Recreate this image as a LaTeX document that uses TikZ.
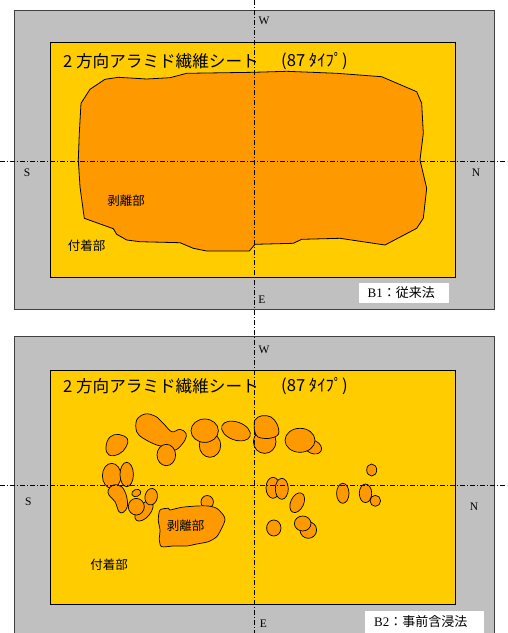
\documentclass[tikz,border=0pt]{standalone}
\usepackage{fontspec}
\setmainfont{Liberation Serif}
\newfontfamily\jp{Noto Sans CJK JP}
\definecolor{panelgray}{HTML}{C0C0C0}
\definecolor{sheet}{HTML}{FFCC00}
\definecolor{peel}{HTML}{FF9900}
\tikzset{
  outerbox/.style={fill=panelgray,draw=black!75,line width=0.8pt},
  sheetbox/.style={fill=sheet,draw=black,line width=0.8pt},
  blob/.style={fill=peel,draw=black,line width=0.7pt},
  axisline/.style={black,line width=0.5pt,dash pattern=on 5pt off 2pt on 1pt off 2pt},
  dirlabel/.style={font=\fontsize{11.5}{11.5}\selectfont,inner sep=0pt},
  titletext/.style={font=\jp\fontsize{16.6}{16.6}\selectfont,anchor=west,inner sep=0pt},
  typetext/.style={font=\jp\fontsize{16.6}{16.6}\selectfont,anchor=west,inner sep=0pt},
  jplabel/.style={font=\jp\fontsize{12.5}{12.5}\selectfont,inner sep=0pt},
  capbox/.style={fill=white,draw=none},
  captext/.style={font=\fontsize{13}{13}\selectfont,inner sep=0pt,anchor=west}
}
\begin{document}
\begin{tikzpicture}[x=1pt,y=-1pt]
\useasboundingbox (0,0) rectangle (507,633);
\fill[white] (0,0) rectangle (507,633);
% ================= top panel =================
\draw[outerbox] (14,10.3) rectangle (494.7,309.3);
\draw[sheetbox] (50.3,42.7) rectangle (455.7,277.7);
\draw[blob,line width=0.8pt] (105,79.3) -- (118.3,77.3) -- (146.7,79) -- (170,77.7) -- (186.7,73.3) -- (253.3,72.3) -- (286.7,71.3) -- (336.7,73.3) -- (381.7,76.7) -- (416.7,91.7) -- (421.7,103.3) -- (423.3,133.3) -- (420,160) -- (426.7,188.3) -- (423.3,218.3) -- (416.7,228.3) -- (385,245) -- (340,238.3) -- (301.7,239.3) -- (293.3,243.3) -- (255,244.3) -- (249.3,251) -- (206.7,251) -- (193.3,248.3) -- (180,242.7) -- (140,241.7) -- (126.7,240) -- (116.7,234.3) -- (113.3,228.7) -- (84.3,218.3) -- (80,186.7) -- (78.3,160) -- (79.3,133.3) -- (81,103.3) -- (90,89.3) -- cycle;
\node[titletext] (t1) at (63,61) {2 方向アラミド繊維シート};
\node[typetext] (ty1) at (281,61) {(87 ﾀｲﾌﾟ)};
\node[jplabel] (peel1) at (126,201) {剥離部};
\node[jplabel] (bond1) at (86.7,245.7) {付着部};
\fill[capbox] (359,283.3) rectangle (448.7,302.7);
\node[captext] (cap1) at (367.5,293) {B1\jp：従来法};
% ================= bottom panel =================
\fill[panelgray] (14,336.3) rectangle (494.7,633);
\draw[black!75,line width=0.8pt] (14,633) -- (14,336.3) -- (494.7,336.3) -- (494.7,633);
\draw[sheetbox] (50.3,370) rectangle (455.3,604);
% blobs
\draw[blob] plot[smooth cycle,tension=0.7] coordinates {(106,447) (110,437) (119,434.5) (127.5,439) (126,447) (119,454) (109,455)};
\draw[blob] plot[smooth cycle,tension=0.6] coordinates {(136.7,420) (145,414) (155,416) (163.3,423.3) (171.7,431.7) (180,429.3) (186,433.3) (185,440) (178.3,448.3) (173.3,450) (166.7,446.7) (156.7,445) (143.3,438.3) (136.7,431.7)};
\draw[blob] (166.3,455) ellipse [x radius=9.3pt,y radius=10.7pt];
\draw[blob] (210,445.3) ellipse [x radius=10.7pt,y radius=12pt];
\draw[blob] (204.7,430.7) ellipse [x radius=13.7pt,y radius=11.7pt];
\draw[blob] (236,431) ellipse [x radius=15pt,y radius=9pt,rotate=-20];
\draw[blob] (264.7,441.7) ellipse [x radius=11.3pt,y radius=11.7pt];
\draw[blob] plot[smooth cycle,tension=0.6] coordinates {(255,420) (262,415.7) (271,417) (277,424) (278.5,434) (270,438.3) (258,437) (254.5,430)};
\draw[blob] (313,447) ellipse [x radius=9pt,y radius=6.5pt,rotate=-25];
\draw[blob] (300,440.3) ellipse [x radius=15pt,y radius=12pt];
\draw[blob] (111.7,475.8) ellipse [x radius=9.3pt,y radius=12.5pt];
\draw[blob] (126.7,474.5) ellipse [x radius=6.7pt,y radius=12.2pt];
\draw[blob] plot[smooth cycle,tension=0.6] coordinates {(108.3,490) (113.3,485) (121.7,486.7) (126.7,496.7) (127.3,506.7) (123.3,512.3) (119,511.7) (115,501.7) (109,495)};
\draw[blob] (136.3,493) ellipse [x radius=4.7pt,y radius=3.5pt,rotate=20];
\draw[blob] (144,511) ellipse [x radius=12pt,y radius=6.5pt,rotate=50];
\draw[blob] (151.2,496.7) ellipse [x radius=6.2pt,y radius=8.3pt,rotate=-10];
\draw[blob] (136.3,506.7) ellipse [x radius=8pt,y radius=8.3pt];
\draw[blob] (207.2,502) ellipse [x radius=6.2pt,y radius=6.5pt];
\draw[blob] plot[smooth cycle,tension=0.45] coordinates {(160,510) (168.3,508.3) (170,510) (181.7,507.3) (196.7,506) (208.3,506) (216.7,508.3) (223.3,515) (225,520) (221.7,528.3) (216.7,536.7) (208.3,541.7) (196.7,544) (186.7,546) (173.3,546) (161.7,546.7) (159.3,540) (160,530) (158.3,520)};
% right side blobs
\draw[blob] (273,487.8) ellipse [x radius=7pt,y radius=10.5pt];
\draw[blob] (281.8,488.8) ellipse [x radius=6.5pt,y radius=10.5pt];
\draw[blob] (297.2,502.7) ellipse [x radius=6.5pt,y radius=10.5pt,rotate=-25];
\draw[blob] (273.8,528) ellipse [x radius=7.2pt,y radius=8pt];
\draw[blob] (308.3,530) ellipse [x radius=8.3pt,y radius=8.3pt];
\draw[blob] (302.7,523.5) ellipse [x radius=8.3pt,y radius=7.5pt];
\draw[blob] (371.7,470) ellipse [x radius=5pt,y radius=6pt];
\draw[blob] (342.8,493.3) ellipse [x radius=6.2pt,y radius=10pt];
\draw[blob] (375.3,500.8) ellipse [x radius=5.3pt,y radius=5.5pt];
\draw[blob] (365.5,493.3) ellipse [x radius=6.2pt,y radius=9.3pt];
\node[titletext] (t2) at (63,386) {2 方向アラミド繊維シート};
\node[typetext] (ty2) at (281,386) {(87 ﾀｲﾌﾟ)};
\node[jplabel] (peel2) at (185.7,525.7) {剥離部};
\node[jplabel] (bond2) at (109,565) {付着部};
\fill[capbox] (365,611) rectangle (484.3,633);
\node[captext] (cap2) at (374,622) {B2\jp：事前含浸法};
% ================= axes =================
\coordinate (vtop) at (254.3,0);
\coordinate (vbot) at (254.3,633);
\coordinate (h1l) at (0,161);
\coordinate (h1r) at (507,161);
\coordinate (h2l) at (0,485.7);
\coordinate (h2r) at (507,485.7);
\draw[axisline] (vtop) -- (vbot);
\draw[axisline] (h1l) -- (h1r);
\draw[axisline] (h2l) -- (h2r);
% direction labels
\node[dirlabel] (w1) at (264,21) {W};
\node[dirlabel] (s1) at (27,172.7) {S};
\node[dirlabel] (n1) at (476,172.7) {N};
\node[dirlabel] (e1) at (262,300) {E};
\node[dirlabel] (w2) at (264,350) {W};
\node[dirlabel] (s2) at (28.3,501.7) {S};
\node[dirlabel] (n2) at (474,506.7) {N};
\node[dirlabel] (e2) at (263.3,623.3) {E};
\end{tikzpicture}
\end{document}
